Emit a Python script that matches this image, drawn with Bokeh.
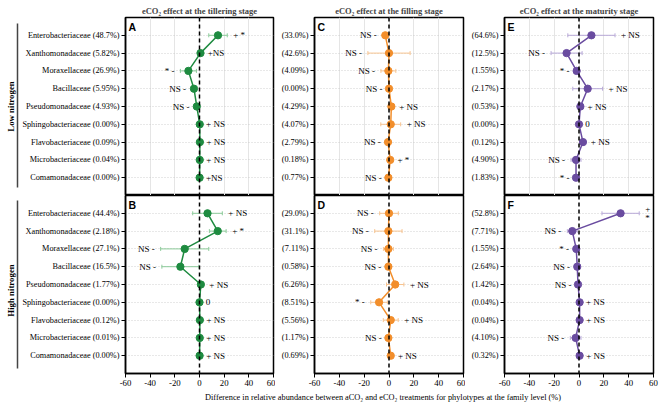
import math
from bokeh.plotting import figure
from bokeh.models import (ColumnDataSource, Range1d, FixedTicker, Span, Label,
                          Whisker, TeeHead)
from bokeh.layouts import gridplot, row, column
from bokeh.core.properties import value
from bokeh.embed import file_html
from bokeh.resources import INLINE

# ---------------- data ----------------
families = ["Enterobacteriaceae", "Xanthomonadaceae", "Moraxellaceae", "Bacillaceae",
            "Pseudomonadaceae", "Sphingobacteriaceae", "Flavobacteriaceae",
            "Microbacteriaceae", "Comamonadaceae"]

stage_titles = ["eCO\u2082 effect at the tillering stage",
                "eCO\u2082 effect at the filling stage",
                "eCO\u2082 effect at the maturity stage"]
row_titles = ["Low nitrogen", "High nitrogen"]
x_title = ("Difference in relative abundance between aCO\u2082 and eCO\u2082 "
           "treatments for phylotypes at the family level (%)")
x_ticks = [-60, -40, -20, 0, 20, 40, 60]

# relative abundance of each family (text shown beside the axis)
pct_A = ["48.7%", "5.82%", "26.9%", "5.95%", "4.93%", "0.00%", "0.09%", "0.04%", "0.00%"]
pct_B = ["44.4%", "2.18%", "27.1%", "16.5%", "1.77%", "0.00%", "0.12%", "0.01%", "0.00%"]
pct_C = ["33.0%", "42.6%", "4.09%", "0.00%", "4.29%", "4.07%", "2.79%", "0.18%", "0.77%"]
pct_D = ["29.0%", "31.1%", "7.11%", "0.58%", "6.26%", "8.51%", "5.56%", "1.17%", "0.69%"]
pct_E = ["64.6%", "12.5%", "1.55%", "2.17%", "0.53%", "0.00%", "0.12%", "4.90%", "1.83%"]
pct_F = ["52.8%", "7.71%", "1.55%", "2.64%", "1.42%", "0.04%", "0.04%", "4.10%", "0.32%"]

# difference (eCO2 - aCO2) and error
diff_A = [15.0, 0.8, -9.0, -4.5, -2.2, 0.2, 0.3, 0.2, 0.1]
err_A = [7.5, 1.0, 6.5, 1.5, 1.0, 0.3, 0.5, 0.5, 0.3]
diff_B = [6.5, 14.8, -12.0, -15.5, 1.1, 0.0, 0.3, 0.2, 0.1]
err_B = [12.0, 6.8, 19.5, 15.0, 2.0, 0.3, 0.5, 0.5, 0.5]
diff_C = [-3.0, 0.0, -0.5, 0.0, 1.9, 1.4, -0.8, 1.0, -0.5]
err_C = [2.0, 17.0, 6.0, 0.5, 1.5, 8.0, 1.0, 1.0, 0.5]
diff_D = [0.0, -0.5, -0.5, -0.5, 5.0, -8.0, 1.4, -0.5, 1.4]
err_D = [7.5, 11.0, 4.0, 1.0, 7.0, 6.7, 6.0, 0.5, 1.0]
diff_E = [10.0, -10.0, -1.9, 7.0, 1.1, 0.0, 3.2, -2.4, -2.4]
err_E = [19.0, 12.5, 1.0, 12.0, 1.0, 0.3, 1.5, 4.0, 0.5]
diff_F = [33.5, -5.4, -2.2, -1.4, -0.8, 0.5, 0.5, -2.7, 0.5]
err_F = [15.0, 4.0, 1.0, 1.0, 0.5, 0.3, 0.5, 4.3, 0.5]

# significance annotations
sig_A = ["+ *", "+NS", "* -", "NS -", "NS -", "+ NS", "+ NS", "+ NS", "+NS"]
sig_B = ["+ NS", "+ *", "NS -", "NS -", "+ NS", "0", "+ NS", "+ NS", "+ NS"]
sig_C = ["NS -", "NS -", "NS -", "NS -", "+ NS", "+ NS", "NS -", "+ *", "NS -"]
sig_D = ["NS -", "NS -", "NS -", "NS -", "+ NS", "* -", "+ NS", "NS -", "+ NS"]
sig_E = ["+ NS", "NS -", "* -", "+ NS", "+ NS", "0", "+ NS", "NS -", "* -"]
sig_F = ["+\n*", "NS -", "* -", "NS -", "NS -", "+ NS", "+ NS", "NS -", "+ NS"]

# ---------------- styling ----------------
SERIF = "Liberation Serif"
GREEN, GREEN_L = "#1e8b40", "#8ccb9a"
ORANGE, ORANGE_L = "#f28e2b", "#f7c491"
PURPLE, PURPLE_L = "#6a4ca0", "#b8a9d8"

STRIP_W = 19
COL_W = [256, 190, 196]
COL_BL = [106, 39, 39]
COL_BR = [2, 2, 8]
FRAME_H = 178
TOP_B = 17
BOT_B = 17
ROW_H = [TOP_B + FRAME_H, FRAME_H + BOT_B]
rows_y = list(range(1, 10))


def panel(col, rw, diff, err, pct, sig, color, light, letter):
    bottom = rw == 1
    p = figure(width=COL_W[col], height=ROW_H[rw],
               x_range=Range1d(-60, 60), y_range=Range1d(10, 0),
               output_backend="svg", toolbar_location=None,
               x_axis_location="below" if bottom else None,
               min_border_left=COL_BL[col], min_border_right=COL_BR[col],
               min_border_top=TOP_B if rw == 0 else 0,
               min_border_bottom=BOT_B if bottom else 0)
    p.background_fill_color = "white"
    p.border_fill_color = "white"
    p.outline_line_color = "black"
    p.outline_line_width = 1.5
    p.outline_line_alpha = 1

    if rw == 0:
        p.title.text = stage_titles[col]
        p.title.align = "center"
        p.title.text_font = SERIF
        p.title.text_font_style = "bold"
        p.title.text_font_size = "8.5px"
        p.title.standoff = 3
        p.title.offset = 0

    # y axis
    ya = p.yaxis[0]
    ya.ticker = FixedTicker(ticks=rows_y)
    if col == 0:
        labels = [f"{f} ({q})" for f, q in zip(families, pct)]
    else:
        labels = [f"({q})" for q in pct]
    ya.major_label_overrides = {i: lab for i, lab in zip(rows_y, labels)}
    ya.major_label_text_font = SERIF
    ya.major_label_text_font_size = "8.25px"
    ya.major_label_text_color = "black"
    ya.major_label_standoff = 2
    ya.major_tick_out = 4
    ya.major_tick_in = 0
    ya.minor_tick_out = 0
    ya.minor_tick_in = 0
    ya.axis_line_width = 1.5
    ya.major_tick_line_width = 1
    p.ygrid.ticker = FixedTicker(ticks=rows_y)
    p.ygrid.grid_line_color = "#c4c4c4"
    p.ygrid.grid_line_dash = "1 2"
    p.ygrid.grid_line_width = 0.8

    if bottom:
        xa = p.xaxis[0]
        xa.ticker = FixedTicker(ticks=x_ticks)
        xa.major_label_overrides = {t: str(t) for t in x_ticks}
        xa.major_label_text_font = SERIF
        xa.major_label_text_font_size = "8.8px"
        xa.major_label_text_color = "black"
        xa.major_label_standoff = 2
        xa.major_tick_out = 4
        xa.major_tick_in = 0
        xa.minor_tick_out = 0
        xa.minor_tick_in = 0
        xa.axis_line_width = 1.5
        p.xgrid.visible = False

    p.add_layout(Span(location=0, dimension="height", line_color="black",
                      line_dash="4 3", line_width=1.5))

    lo = [d - e for d, e in zip(diff, err)]
    hi = [d + e for d, e in zip(diff, err)]
    src = ColumnDataSource(dict(y=rows_y, v=diff, lo=lo, hi=hi))
    p.add_layout(Whisker(source=src, base="y", lower="lo", upper="hi",
                         dimension="width", line_color=light, line_width=1,
                         upper_head=TeeHead(size=4, line_color=light, line_width=1),
                         lower_head=TeeHead(size=4, line_color=light, line_width=1)))
    p.line("v", "y", source=src, line_color=color, line_width=1.5)
    p.scatter("v", "y", source=src, size=7.3, fill_color=color, line_color=color)

    # annotations
    right = dict(x=[], y=[], t=[])
    left = dict(x=[], y=[], t=[])
    for yv, s, l, h in zip(rows_y, sig, lo, hi):
        if s.endswith("-"):
            left["x"].append(l); left["y"].append(yv); left["t"].append(s)
        else:
            right["x"].append(h); right["y"].append(yv); right["t"].append(s)
    common = dict(text_font=value(SERIF), text_font_size="9px",
                  text_color="black", text_baseline="middle", text_line_height=0.9)
    p.text("x", "y", "t", source=ColumnDataSource(right), text_align="left",
           x_offset=6, **common)
    p.text("x", "y", "t", source=ColumnDataSource(left), text_align="right",
           x_offset=-6, **common)

    p.add_layout(Label(x=-60, y=0, x_offset=3, y_offset=-3, text=letter,
                       text_font="Liberation Sans", text_font_style="bold",
                       text_font_size="10.5px", text_baseline="top",
                       text_align="left", text_color="black"))
    return p


pA = panel(0, 0, diff_A, err_A, pct_A, sig_A, GREEN, GREEN_L, "A")
pB = panel(0, 1, diff_B, err_B, pct_B, sig_B, GREEN, GREEN_L, "B")
pC = panel(1, 0, diff_C, err_C, pct_C, sig_C, ORANGE, ORANGE_L, "C")
pD = panel(1, 1, diff_D, err_D, pct_D, sig_D, ORANGE, ORANGE_L, "D")
pE = panel(2, 0, diff_E, err_E, pct_E, sig_E, PURPLE, PURPLE_L, "E")
pF = panel(2, 1, diff_F, err_F, pct_F, sig_F, PURPLE, PURPLE_L, "F")

grid = gridplot([[pA, pC, pE], [pB, pD, pF]], toolbar_location=None)

# left strip with row titles
H = ROW_H[0] + ROW_H[1]
strip = figure(width=STRIP_W, height=H, x_range=Range1d(0, STRIP_W),
               y_range=Range1d(0, H), output_backend="svg", toolbar_location=None,
               x_axis_location=None, y_axis_location=None,
               min_border=0, outline_line_color=None)
strip.grid.visible = False
r1_top, r1_bot = TOP_B, TOP_B + FRAME_H
r2_top, r2_bot = ROW_H[0], ROW_H[0] + FRAME_H
strip.segment(x0=[17, 17], x1=[17, 17],
              y0=[H - (r1_top + 6), H - (r2_top + 5)],
              y1=[H - (r1_bot - 8), H - (r2_bot - 5)],
              line_color="#444444", line_width=1.5)
strip.text(x=[10, 10], y=[H - (r1_top + r1_bot) / 2, H - (r2_top + r2_bot) / 2 - 6],
           text=row_titles, angle=math.pi / 2, text_align="center",
           text_baseline="middle", text_font=value(SERIF), text_font_style="bold",
           text_font_size="8.8px", text_color="black")

# bottom strip with x-axis title
TW = STRIP_W + sum(COL_W)
xt = figure(width=TW, height=14, x_range=Range1d(0, TW), y_range=Range1d(0, 14),
            output_backend="svg", toolbar_location=None, x_axis_location=None,
            y_axis_location=None, min_border=0, outline_line_color=None)
xt.grid.visible = False
xt.text(x=[STRIP_W + COL_W[0] + COL_BL[1] + 149 / 2 - 6], y=[7], text=[x_title],
        text_align="center", text_baseline="middle", text_font=value(SERIF),
        text_font_size="8.3px", text_color="black")

layout = column(row(strip, grid), xt)
open("out.html", "w").write(file_html(layout, INLINE))
